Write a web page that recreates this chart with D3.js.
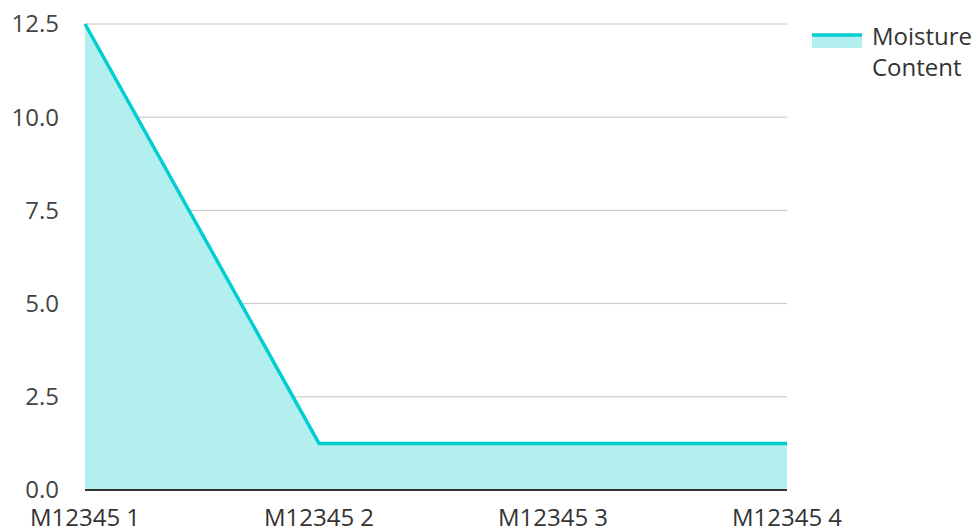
<!DOCTYPE html>
<html>
<head>
<meta charset="utf-8">
<script src="https://cdn.jsdelivr.net/npm/d3@7"></script>
<style>
  body { margin: 0; background: #fff; }
  #chart text { font-family: "Open Sans", sans-serif; }
</style>
</head>
<body>
<div id="chart"></div>
<script>
// data
var categories = ["M12345 1", "M12345 2", "M12345 3", "M12345 4"];
var moisture = [12.5, 1.25, 1.25, 1.25];
var yTicks = [0, 2.5, 5, 7.5, 10, 12.5];
var seriesName = ["Moisture", "Content"];

var W = 979, H = 531;
var margin = {top: 24, right: 192, bottom: 41, left: 85};
var width = W - margin.left - margin.right,
    height = H - margin.top - margin.bottom;

var svg = d3.select("#chart").append("svg")
    .attr("width", W)
    .attr("height", H);

var g = svg.append("g")
    .attr("transform", "translate(" + margin.left + "," + margin.top + ")");

var x = d3.scalePoint()
  .domain(categories)
  .range([0, width]);

var y = d3.scaleLinear()
  .domain([0, 12.5])
  .range([height, 0]);

// gridlines
g.append("g")
  .selectAll("line")
  .data(yTicks)
  .enter()
    .append("line")
    .attr("x1", 0)
    .attr("x2", width)
    .attr("y1", function(d){ return y(d); })
    .attr("y2", function(d){ return y(d); })
    .attr("stroke", "#c4c4c4")
    .attr("stroke-width", 1);

// y labels
g.append("g")
  .selectAll("text")
  .data(yTicks)
  .enter()
    .append("text")
    .attr("x", -26)
    .attr("y", function(d){ return y(d); })
    .attr("dy", "0.35em")
    .attr("text-anchor", "end")
    .attr("fill", "#444")
    .style("font-size", "24px")
    .text(function(d){ return d3.format(".1f")(d); });

var pts = categories.map(function(c, i){ return {c: c, v: moisture[i]}; });

// area
g.append("path")
  .datum(pts)
  .attr("fill", "#b2efee")
  .attr("d", d3.area()
    .x(function(d){ return x(d.c); })
    .y0(y(0))
    .y1(function(d){ return y(d.v); }));

// baseline
g.append("line")
  .attr("x1", 0).attr("x2", width)
  .attr("y1", y(0)).attr("y2", y(0))
  .attr("stroke", "#333")
  .attr("stroke-width", 2);

// line
g.append("path")
  .datum(pts)
  .attr("fill", "none")
  .attr("stroke", "#00ced1")
  .attr("stroke-width", 3.5)
  .attr("d", d3.line()
    .x(function(d){ return x(d.c); })
    .y(function(d){ return y(d.v); }));

// x labels
g.append("g")
  .selectAll("text")
  .data(categories)
  .enter()
    .append("text")
    .attr("x", function(d){ return x(d); })
    .attr("y", height + 36)
    .attr("text-anchor", "middle")
    .attr("fill", "#333")
    .style("font-size", "24px")
    .text(function(d){ return d; });

// legend
var lg = svg.append("g").attr("transform", "translate(812,33)");
lg.append("rect")
  .attr("x", 0).attr("y", 2)
  .attr("width", 50).attr("height", 13)
  .attr("fill", "#b2efee");
lg.append("line")
  .attr("x1", 0).attr("x2", 50)
  .attr("y1", 2).attr("y2", 2)
  .attr("stroke", "#00ced1")
  .attr("stroke-width", 3.5);
lg.selectAll("text.lbl")
  .data(seriesName)
  .enter()
    .append("text")
    .attr("class", "lbl")
    .attr("x", 60)
    .attr("y", function(d, i){ return 12 + i * 31; })
    .attr("fill", "#333")
    .style("font-size", "24px")
    .text(function(d){ return d; });
</script>
</body>
</html>
